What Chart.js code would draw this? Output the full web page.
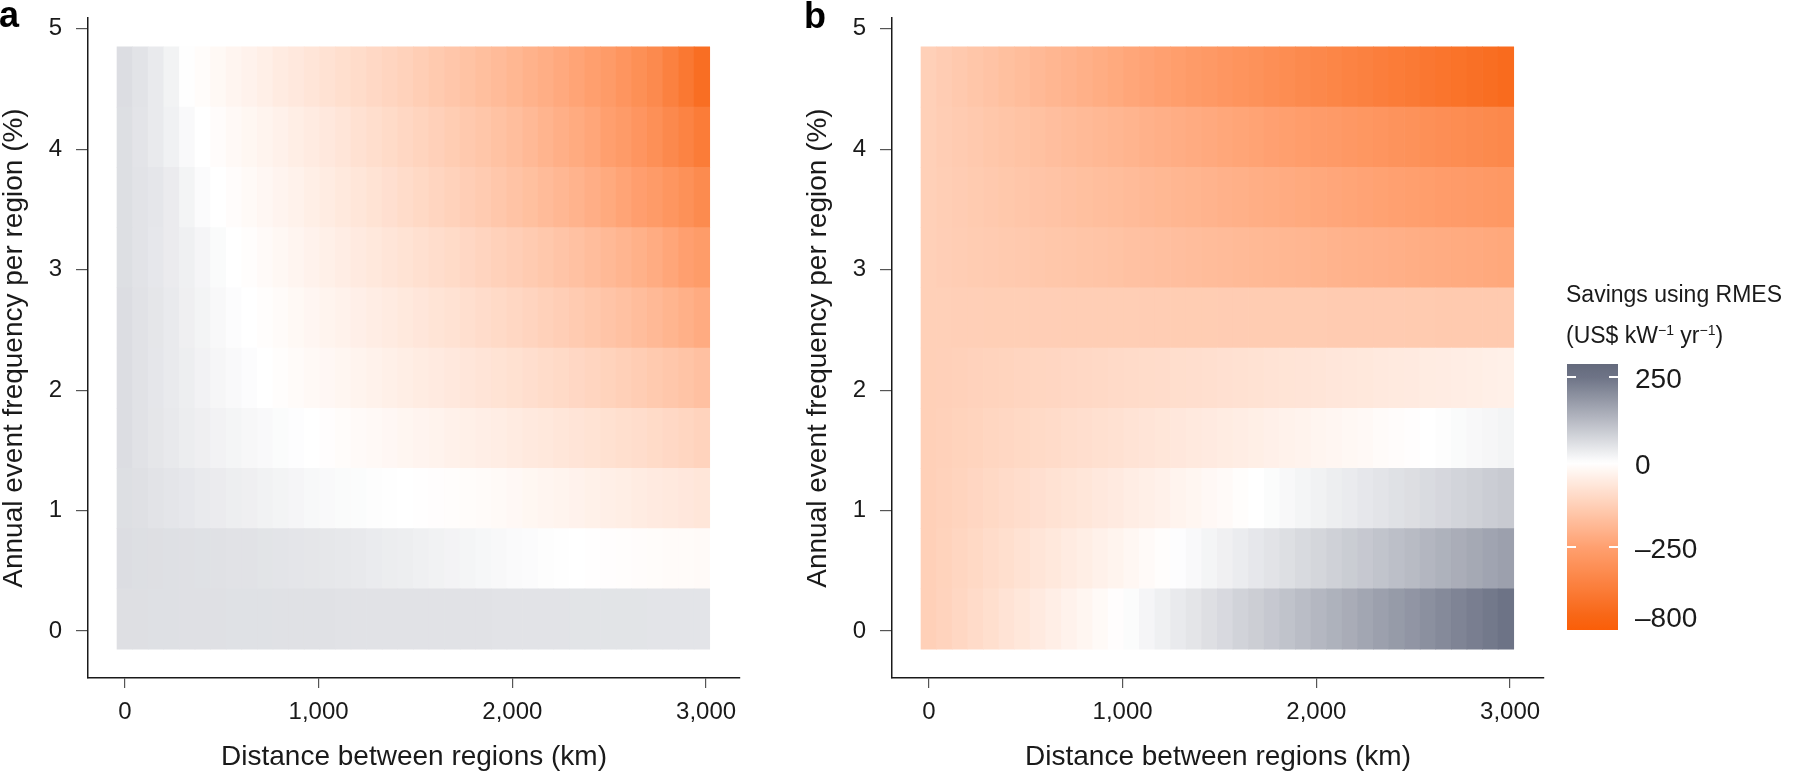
<!DOCTYPE html>
<html>
<head>
<meta charset="utf-8">
<script src="https://cdn.jsdelivr.net/npm/chart.js@4.4.1/dist/chart.umd.min.js"></script>
<style>
  html, body { margin: 0; padding: 0; background: #ffffff; }
  body { width: 1810px; height: 771px; position: relative; overflow: hidden;
         font-family: "Liberation Sans", Arial, sans-serif; color: #1a1a1a; }
  canvas { position: absolute; top: 0; }
  .plabel { position: absolute; font-weight: 700; font-size: 36px; line-height: 36px; color: #000; }
  #cbar { position: absolute; left: 1567px; top: 364px; width: 51px; height: 266px; }
  .cbtick { position: absolute; height: 1.5px; width: 9px; background: #ffffff; }
  .cblab { position: absolute; left: 1635px; font-size: 28px; line-height: 1; transform: translateY(-50%); white-space: nowrap; }
  .ltitle { position: absolute; left: 1566px; font-size: 23px; line-height: 1; transform: translateY(-50%); white-space: nowrap; }
  .ltitle sup { font-size: 14px; vertical-align: 8px; line-height: 0; }
</style>
</head>
<body>
<canvas id="chartA" width="770" height="771" style="left:0px;width:770px;height:771px"></canvas>
<canvas id="chartB" width="770" height="771" style="left:804px;width:770px;height:771px"></canvas>
<div class="plabel" style="left:-1px;top:-3px">a</div>
<div class="plabel" style="left:804px;top:-2px">b</div>
<div class="ltitle" style="top:294px">Savings using RMES</div>
<div class="ltitle" style="top:335px">(US$ kW<sup>−1</sup> yr<sup>−1</sup>)</div>
<div id="cbar"></div>
<div id="cblabels"></div>
<script>
// ---------------- data ----------------
const distancesKm = [0,80.5,161,241.5,322,402.5,483,563.5,644,724.5,805,885.5,966,1046.5,1127,1207.5,1288,1368.5,1449,1529.5,1610,1690.5,1771,1851.5,1932,2012.5,2093,2173.5,2254,2334.5,2415,2495.5,2576,2656.5,2737,2817.5,2898,2978.5];
const frequencies = [0.1, 0.6, 1.1, 1.6, 2.1, 2.6, 3.1, 3.6, 4.1, 4.6];

const xTickValues = [0, 1000, 2000, 3000];
const xTickLabels = ['0', '1,000', '2,000', '3,000'];
const yTickValues = [0, 1, 2, 3, 4, 5];
const yTickLabels = ['0', '1', '2', '3', '4', '5'];

const xTitle = 'Distance between regions (km)';
const yTitle = 'Annual event frequency per region (%)';

const legendValues = [250, 0, -250, -800];
const legendLabels = ['250', '0', '–250', '–800'];

// panel a: savings (US$ per kW per yr) by frequency row, across distances
const panelA_f0_1 = [57,57,56,56,55,55,55,54,54,54,53,53,53,53,52,52,52,52,52,51,51,51,51,51,50,50,50,50,50,49,49,49,49,49,48,48,48,48];
const panelA_f0_6 = [60,58,57,56,55,54,53,52,51,49,48,46,45,43,41,39,36,33,30,27,24,21,18,15,12,9,7,4,2,0,-2,-4,-5,-7,-8,-10,-11,-12];
const panelA_f1_1 = [58,55,50,46,42,38,35,31,28,24,20,17,13,10,8,6,4,2,0,-2,-4,-6,-8,-11,-14,-18,-22,-26,-30,-34,-38,-42,-46,-50,-54,-58,-62,-66];
const panelA_f1_6 = [60,52,45,39,33,28,23,18,14,10,6,3,0,-4,-8,-12,-16,-20,-24,-28,-32,-36,-40,-44,-48,-52,-57,-61,-66,-70,-75,-80,-85,-90,-96,-102,-108,-115];
const panelA_f2_1 = [60,52,44,37,30,23,16,10,5,0,-5,-10,-15,-20,-25,-30,-35,-40,-45,-50,-55,-60,-65,-70,-75,-80,-86,-92,-98,-104,-110,-117,-124,-131,-139,-147,-156,-165];
const panelA_f2_6 = [60,52,45,38,28,20,12,5,0,-5,-11,-17,-23,-29,-35,-41,-47,-53,-59,-65,-71,-77,-84,-91,-98,-105,-112,-120,-128,-136,-145,-154,-163,-173,-184,-196,-208,-220];
const panelA_f3_1 = [58,50,42,35,27,17,8,0,-6,-12,-19,-26,-33,-40,-47,-54,-61,-68,-75,-82,-89,-96,-104,-112,-120,-128,-136,-145,-154,-163,-173,-183,-194,-206,-219,-235,-258,-290];
const panelA_f3_6 = [58,50,44,35,20,7,0,-7,-14,-21,-28,-35,-43,-51,-59,-67,-75,-83,-92,-101,-110,-119,-128,-137,-147,-157,-167,-178,-189,-200,-212,-225,-240,-265,-300,-345,-395,-450];
const panelA_f4_1 = [58,48,38,25,10,0,-7,-15,-22,-30,-37,-45,-52,-60,-69,-78,-87,-96,-105,-114,-123,-132,-141,-150,-160,-172,-184,-197,-210,-222,-235,-262,-300,-350,-405,-465,-525,-590];
const panelA_f4_6 = [60,50,37,22,2,-8,-17,-26,-33,-42,-52,-60,-68,-77,-85,-93,-102,-110,-119,-129,-139,-149,-159,-169,-179,-190,-202,-214,-226,-240,-261,-299,-353,-406,-460,-545,-630,-720];

// panel b
const panelB_f0_1 = [-125,-115,-105,-95,-85,-74,-64,-54,-44,-34,-24,-14,-4,6,17,27,37,47,57,67,78,88,98,108,118,128,138,148,159,169,179,189,199,209,219,230,240,250];
const panelB_f0_6 = [-125,-117,-109,-101,-93,-85,-77,-69,-61,-53,-45,-37,-29,-21,-13,-5,3,11,18,26,34,42,50,58,66,74,82,90,98,106,114,122,130,138,146,154,162,170];
const panelB_f1_1 = [-125,-119,-113,-107,-101,-95,-89,-83,-77,-71,-66,-60,-54,-48,-42,-36,-30,-24,-18,-12,-6,0,6,12,18,24,30,36,42,48,54,59,65,71,77,83,89,95];
const panelB_f1_6 = [-125,-121,-117,-113,-109,-105,-101,-98,-94,-90,-86,-82,-78,-74,-70,-66,-62,-58,-54,-51,-47,-43,-39,-35,-31,-27,-23,-19,-15,-11,-7,-4,0,4,8,12,16,20];
const panelB_f2_1 = [-125,-123,-120,-118,-116,-114,-111,-109,-107,-104,-102,-100,-97,-95,-93,-91,-88,-86,-84,-81,-79,-77,-74,-72,-70,-68,-65,-63,-61,-58,-56,-54,-51,-49,-47,-45,-42,-40];
const panelB_f2_6 = [-125,-125,-126,-126,-127,-127,-127,-128,-128,-129,-129,-130,-130,-130,-131,-131,-132,-132,-132,-133,-133,-134,-134,-134,-135,-135,-136,-136,-137,-137,-137,-138,-138,-139,-139,-139,-140,-140];
const panelB_f3_1 = [-125,-128,-131,-134,-136,-139,-142,-145,-148,-151,-153,-156,-159,-162,-165,-168,-170,-173,-176,-179,-182,-185,-187,-190,-193,-196,-199,-202,-205,-207,-210,-213,-216,-219,-222,-224,-227,-230];
const panelB_f3_6 = [-125,-129,-133,-138,-142,-146,-150,-154,-158,-163,-167,-171,-175,-179,-183,-188,-192,-196,-200,-204,-208,-213,-217,-221,-225,-229,-233,-238,-242,-246,-250,-261,-272,-284,-295,-307,-319,-330];
const panelB_f4_1 = [-125,-131,-136,-142,-148,-153,-159,-164,-170,-176,-181,-187,-193,-198,-204,-210,-215,-221,-226,-232,-238,-243,-249,-262,-278,-293,-308,-324,-339,-354,-370,-385,-400,-416,-431,-447,-461,-476];
const panelB_f4_6 = [-125,-133,-142,-150,-158,-167,-175,-183,-192,-200,-208,-217,-225,-234,-242,-251,-273,-296,-319,-341,-364,-387,-409,-432,-455,-477,-500,-523,-545,-568,-591,-613,-636,-659,-681,-704,-727,-749];

const panelARows = [panelA_f0_1, panelA_f0_6, panelA_f1_1, panelA_f1_6, panelA_f2_1, panelA_f2_6, panelA_f3_1, panelA_f3_6, panelA_f4_1, panelA_f4_6];
const panelBRows = [panelB_f0_1, panelB_f0_6, panelB_f1_1, panelB_f1_6, panelB_f2_1, panelB_f2_6, panelB_f3_1, panelB_f3_6, panelB_f4_1, panelB_f4_6];

// ---------------- colour scale ----------------
const cmapStops = [
  [-920, [251, 94, 8]],
  [-800, [248, 102, 22]],
  [-250, [255, 160, 112]],
  [0,    [255, 255, 255]],
  [250,  [109, 115, 134]],
  [288,  [100, 106, 124]]
];
function colorFor(v) {
  if (v <= cmapStops[0][0]) return 'rgb(' + cmapStops[0][1].join(',') + ')';
  for (let i = 1; i < cmapStops.length; i++) {
    const [v1, c1] = cmapStops[i];
    const [v0, c0] = cmapStops[i - 1];
    if (v <= v1) {
      const t = (v - v0) / (v1 - v0);
      const c = c0.map((a, k) => Math.round(a + (c1[k] - a) * t));
      return 'rgb(' + c.join(',') + ')';
    }
  }
  return 'rgb(' + cmapStops[cmapStops.length - 1][1].join(',') + ')';
}

// ---------------- charts ----------------
Chart.defaults.font.family = '"Liberation Sans", Arial, sans-serif';
Chart.defaults.color = '#1a1a1a';

const X_MIN = -190, X_MAX = 3175;
const Y_MIN = -0.39, Y_MAX = 5.09;

function makePanel(canvasId, rows) {
  const n = distancesKm.length;
  const step = (distancesKm[n - 1] - distancesKm[0]) / (n - 1);
  const datasets = frequencies.map((f, r) => ({
    data: distancesKm.map(d => ({ y: f, x: [d - step / 2, d + step / 2] })),
    backgroundColor: ctx => colorFor(rows[r][ctx.dataIndex]),
    borderWidth: 0,
    grouped: false,
    categoryPercentage: 1,
    barPercentage: 1
  }));
  const tickFont = { size: 24 };
  const titleFont = { size: 28, lineHeight: 1 };
  return new Chart(document.getElementById(canvasId), {
    type: 'bar',
    data: { datasets },
    options: {
      indexAxis: 'y',
      responsive: false,
      animation: false,
      devicePixelRatio: 1,
      layout: { padding: { top: 18, right: 30, left: 0, bottom: 0 } },
      plugins: { legend: { display: false }, tooltip: { enabled: false } },
      scales: {
        x: {
          type: 'linear', min: X_MIN, max: X_MAX, offset: false,
          afterBuildTicks: s => { s.ticks = xTickValues.map(v => ({ value: v })); },
          afterFit: s => { s.height = 93; s.paddingLeft = 0; s.paddingRight = 0; },
          ticks: { font: tickFont, color: '#1a1a1a', padding: 10, maxRotation: 0,
                   callback: (v, i) => xTickLabels[i] },
          grid: { offset: false, drawOnChartArea: false, drawTicks: true, tickLength: 10, color: '#555555', lineWidth: 1.2 },
          border: { display: true, color: '#1a1a1a', width: 1.5 },
          title: { display: true, text: xTitle, font: titleFont, color: '#1a1a1a', padding: { top: 0, bottom: 0 } }
        },
        y: {
          type: 'linear', min: Y_MIN, max: Y_MAX, offset: false,
          afterBuildTicks: s => { s.ticks = yTickValues.map(v => ({ value: v })); },
          afterFit: s => { s.width = 88; s.paddingTop = 0; s.paddingBottom = 0; },
          ticks: { font: tickFont, color: '#1a1a1a', padding: 14,
                   callback: (v, i) => yTickLabels[i] },
          grid: { offset: false, drawOnChartArea: false, drawTicks: true, tickLength: 12, color: '#555555', lineWidth: 1.2 },
          border: { display: true, color: '#1a1a1a', width: 1.5 },
          title: { display: true, text: yTitle, font: titleFont, color: '#1a1a1a', padding: { top: 0, bottom: 0 } }
        }
      }
    }
  });
}

makePanel('chartA', panelARows);
makePanel('chartB', panelBRows);

// ---------------- colour bar ----------------
const cbTop = 364, cbBottom = 630;
const cbAnchors = [[288, 364], [250, 377], [0, 463], [-250, 547], [-800, 616], [-920, 630]]; // value -> page y
function yForValue(v) {
  for (let i = 1; i < cbAnchors.length; i++) {
    const [v0, y0] = cbAnchors[i - 1], [v1, y1] = cbAnchors[i];
    if (v <= v0 && v >= v1) return y0 + (y1 - y0) * (v - v0) / (v1 - v0);
  }
  return v > cbAnchors[0][0] ? cbTop : cbBottom;
}
function valueForY(y) {
  for (let i = 1; i < cbAnchors.length; i++) {
    const [v0, y0] = cbAnchors[i - 1], [v1, y1] = cbAnchors[i];
    if (y >= y0 && y <= y1) return v0 + (v1 - v0) * (y - y0) / (y1 - y0);
  }
  return y < cbTop ? cbAnchors[0][0] : cbAnchors[cbAnchors.length - 1][0];
}
const stops = [];
const N = 80;
for (let i = 0; i <= N; i++) {
  const y = cbTop + (cbBottom - cbTop) * i / N;
  stops.push(colorFor(valueForY(y)) + ' ' + (100 * i / N).toFixed(2) + '%');
}
document.getElementById('cbar').style.background = 'linear-gradient(to bottom, ' + stops.join(', ') + ')';

const labHost = document.getElementById('cblabels');
legendValues.forEach((v, i) => {
  const y = yForValue(v);
  const lab = document.createElement('div');
  lab.className = 'cblab';
  lab.style.top = (y + 2) + 'px';
  lab.textContent = legendLabels[i];
  labHost.appendChild(lab);
  if (v === 250 || v === -250) {
    ['1567px', '1609px'].forEach(left => {
      const t = document.createElement('div');
      t.className = 'cbtick';
      t.style.left = left;
      t.style.top = (y - 0.75) + 'px';
      labHost.appendChild(t);
    });
  }
});
</script>
</body>
</html>
